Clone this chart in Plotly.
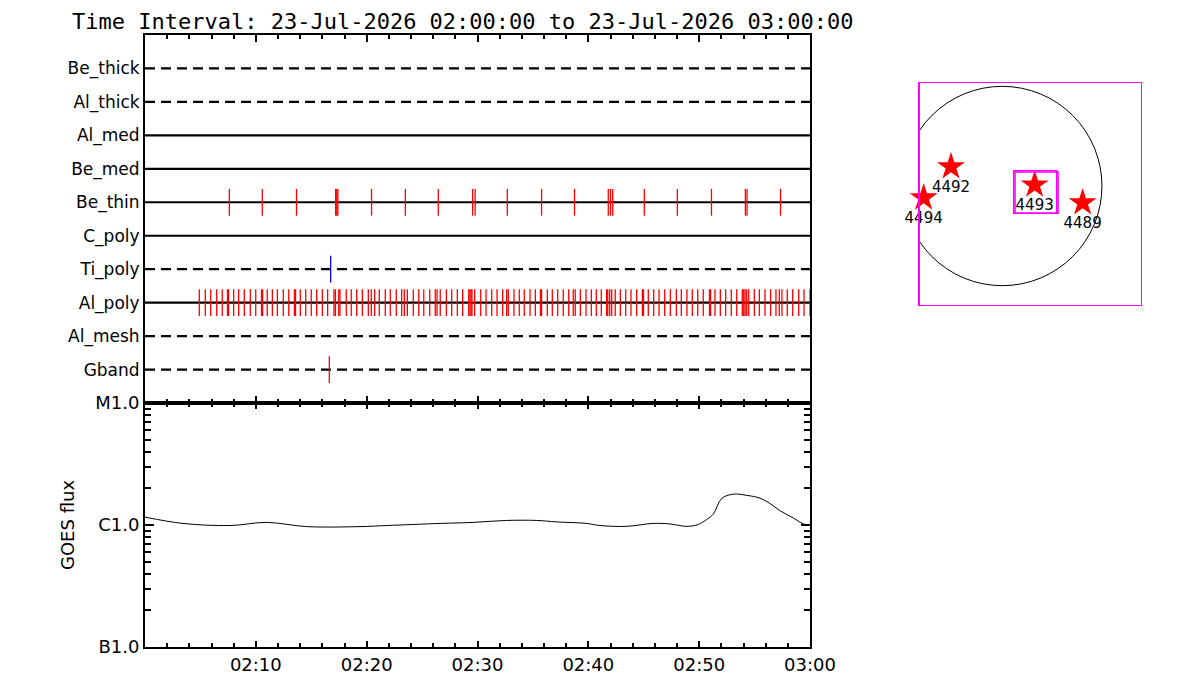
import plotly.graph_objects as go
import pandas as pd

DAY = "2026-07-23"
T0 = pd.Timestamp(f"{DAY} 02:00:00")
T1 = pd.Timestamp(f"{DAY} 03:00:00")

# filter rows, bottom to top
FILTERS = ["Gband", "Al_mesh", "Al_poly", "Ti_poly", "C_poly",
           "Be_thin", "Be_med", "Al_med", "Al_thick", "Be_thick"]

# exposure times, minutes after 02:00
BE_THIN_MIN = [7.61, 10.58, 13.67, 17.2, 17.3, 17.4, 20.44, 23.49, 26.46,
               29.56, 29.79, 32.69, 35.78, 38.75, 41.80, 42.0, 42.2, 45.05,
               48.03, 51.11, 54.17, 54.32, 57.34]
AL_POLY_MIN = [4.90, 5.44, 5.93, 6.47, 6.97, 7.44, 7.54, 8.00, 8.45, 8.96,
               9.50, 9.99, 10.51, 10.61, 11.03, 11.49, 11.94, 12.48, 12.97,
               13.48, 13.58, 14.01, 14.50, 15.00, 15.49, 16.00, 16.48, 17.05,
               17.18, 17.48, 17.59, 18.16, 18.61, 19.10, 19.61, 20.15, 20.42,
               20.72, 21.14, 21.68, 22.13, 22.67, 23.16, 23.40, 23.67, 24.21,
               24.70, 25.15, 25.69, 26.19, 26.35, 26.64, 27.19, 27.67, 28.18,
               28.66, 29.21, 29.32, 29.42, 29.50, 29.74, 30.29, 30.77, 31.28,
               31.76, 32.27, 32.63, 32.78, 33.29, 33.77, 34.22, 34.74, 35.22,
               35.68, 35.78, 36.30, 36.75, 37.24, 37.74, 38.23, 38.64, 38.82,
               39.28, 39.79, 40.27, 40.72, 41.17, 41.65, 41.75, 41.93, 42.11,
               42.43, 42.89, 43.37, 43.85, 44.36, 44.88, 44.98, 45.41, 45.90,
               46.38, 46.89, 47.40, 47.94, 48.39, 48.90, 49.38, 49.87, 50.37,
               50.93, 51.03, 51.43, 51.91, 52.39, 52.90, 53.39, 53.89, 54.02,
               54.14, 54.29, 54.47, 54.98, 55.43, 55.94, 56.45, 56.93, 57.23,
               57.47, 57.95, 58.44, 58.98, 59.46, 60.0]
TI_POLY_MIN = [16.75]
GBAND_MIN = [16.63]

# GOES 1-8 A flux
GOES_MIN = [0, 3.43, 7.67, 10.98, 14.59, 19.40, 21.81, 26.62, 29.59, 32.63,
            35.34, 37.15, 39.85, 41.05, 43.46, 45.83, 47.37, 48.87, 49.92,
            50.68, 51.28, 52.03, 53.08, 54.29, 55.49, 56.39, 57.29, 58.50,
            59.40, 60.0]
GOES_FLUX = [1.16e-6, 1.03e-6, 0.99e-6, 1.05e-6, 0.97e-6, 0.97e-6, 0.99e-6,
             1.03e-6, 1.05e-6, 1.09e-6, 1.09e-6, 1.06e-6, 1.03e-6, 0.99e-6,
             0.975e-6, 1.03e-6, 1.02e-6, 0.975e-6, 1.01e-6, 1.11e-6, 1.23e-6,
             1.65e-6, 1.79e-6, 1.75e-6, 1.66e-6, 1.50e-6, 1.31e-6, 1.14e-6,
             1.02e-6, 1.00e-6]

X_TICKS = ["02:10", "02:20", "02:30", "02:40", "02:50", "03:00"]
GOES_CLASSES = ["B1.0", "C1.0", "M1.0"]
GOES_LEVELS = [1e-7, 1e-6, 1e-5]

# active regions on the disk (arcsec)
AR_NUMBERS = ["4492", "4494", "4493", "4489"]
AR_X = [-494, -757, 312, 774]
AR_Y = [186, -113, 10, -161]

R_SUN = 960
FOV_X = [-802, 1336]
FOV_Y = [-1146, 992]
XRT_BOX = [110, 524, -263, 147]

DASHED = {"Gband", "Al_mesh", "Ti_poly", "Al_thick", "Be_thick"}
EVENT_COLOR = {"Be_thin": "red", "Al_poly": "red", "Ti_poly": "blue", "Gband": "red"}
FONT = "DejaVu Sans"
W, H, PAD = 1200, 700, 8   # page body adds an 8px margin


def px_x(x):
    return (x - PAD) / W


def px_y(y):
    return 1 - (y - PAD) / H


def to_time(m):
    return T0 + pd.Timedelta(minutes=m)


def event_segments(mins, row):
    xs, ys = [], []
    for m in mins:
        t = to_time(m)
        xs += [t, t, None]
        ys += [row - 0.4, row + 0.4, None]
    return xs, ys


fig = go.Figure()

for i, name in enumerate(FILTERS):
    row = i + 1
    fig.add_trace(go.Scatter(
        x=[T0, T1], y=[row, row], mode="lines",
        line=dict(color="black", width=2.2,
                  dash="10px,6px" if name in DASHED else "solid"),
        xaxis="x", yaxis="y", hoverinfo="skip"))

events = {"Be_thin": BE_THIN_MIN, "Al_poly": AL_POLY_MIN,
          "Ti_poly": TI_POLY_MIN, "Gband": GBAND_MIN}
for name, mins in events.items():
    xs, ys = event_segments(mins, FILTERS.index(name) + 1)
    fig.add_trace(go.Scatter(
        x=xs, y=ys, mode="lines",
        line=dict(color=EVENT_COLOR[name], width=1.3),
        xaxis="x", yaxis="y", hoverinfo="skip"))

fig.add_trace(go.Scatter(
    x=[to_time(m) for m in GOES_MIN], y=GOES_FLUX, mode="lines",
    line=dict(color="black", width=1, shape="spline"),
    xaxis="x2", yaxis="y2"))

fig.add_trace(go.Scatter(
    x=AR_X, y=AR_Y, mode="markers+text", text=AR_NUMBERS,
    textposition="bottom center", cliponaxis=False,
    textfont=dict(family=FONT, size=15, color="black"),
    marker=dict(symbol="star", size=21, color="red"),
    xaxis="x3", yaxis="y3"))

# solar limb, FOV edge and XRT pointing box
fig.add_shape(type="circle", xref="x3", yref="y3",
              x0=-R_SUN, x1=R_SUN, y0=-R_SUN, y1=R_SUN,
              line=dict(color="black", width=1))
fig.add_shape(type="line", xref="x3", yref="y3",
              x0=FOV_X[0], x1=FOV_X[0], y0=FOV_Y[0], y1=FOV_Y[1],
              line=dict(color="magenta", width=2))
for off in (0, 13):
    fig.add_shape(type="rect", xref="x3", yref="y3",
                  x0=XRT_BOX[0] + off, x1=XRT_BOX[1] + off,
                  y0=XRT_BOX[2], y1=XRT_BOX[3] - off,
                  line=dict(color="magenta", width=1.5))

tick_times = [pd.Timestamp(f"{DAY} {s}") for s in X_TICKS]
x_dom = [px_x(145), px_x(810)]
time_axis = dict(
    type="date", domain=x_dom, range=[T0, T1], automargin=False,
    showline=True, linecolor="black", linewidth=2, mirror="ticks",
    ticks="inside", ticklen=7, tickwidth=2, tickcolor="black",
    tickvals=tick_times, ticktext=X_TICKS, showgrid=False, zeroline=False,
    minor=dict(ticks="inside", ticklen=4, tickwidth=2, tickcolor="black",
               dtick=120000, tick0=T0, showgrid=False),
)

minor_flux = [k * d for d in (1e-7, 1e-6) for k in range(2, 10)]

fig.update_layout(
    width=W, height=H,
    margin=dict(l=0, r=0, t=0, b=0),
    paper_bgcolor="white", plot_bgcolor="white",
    showlegend=False,
    font=dict(family=FONT, size=18, color="black"),
    xaxis=dict(time_axis, anchor="y", showticklabels=False),
    yaxis=dict(
        domain=[px_y(403), px_y(35)], range=[0, 11],
        tickvals=list(range(1, len(FILTERS) + 1)), ticktext=FILTERS,
        ticks="", showline=True, linecolor="black", linewidth=2,
        mirror=True, showgrid=False, zeroline=False, automargin=False,
        tickfont=dict(size=17)),
    xaxis2=dict(time_axis, anchor="y2", ticklen=6,
                tickfont=dict(size=18)),
    yaxis2=dict(
        domain=[px_y(647), px_y(403)], type="log", range=[-7, -5],
        tickvals=GOES_LEVELS, ticktext=GOES_CLASSES, automargin=False,
        showline=True, linecolor="black", linewidth=2, mirror="ticks",
        ticks="inside", ticklen=9, tickwidth=1.5, tickcolor="black",
        showgrid=False, zeroline=False, anchor="x2",
        minor=dict(tickmode="array", tickvals=minor_flux, ticks="inside",
                   ticklen=6, tickwidth=1.5, tickcolor="black",
                   showgrid=False)),
    xaxis3=dict(domain=[px_x(919), px_x(1141)], range=FOV_X,
                showline=True, linecolor="magenta", linewidth=1, mirror=True,
                showticklabels=False, ticks="", showgrid=False,
                zeroline=False, anchor="y3", automargin=False),
    yaxis3=dict(domain=[px_y(305), px_y(83)], range=FOV_Y,
                showline=True, linecolor="magenta", linewidth=1, mirror=True,
                showticklabels=False, ticks="", showgrid=False,
                zeroline=False, anchor="x3", automargin=False),
    annotations=[
        dict(text="Time Interval: 23-Jul-2026 02:00:00 to 23-Jul-2026 03:00:00",
             x=px_x(70), y=px_y(21), xref="paper", yref="paper",
             xanchor="left", yanchor="middle", showarrow=False,
             font=dict(family="DejaVu Sans Mono", size=22)),
        dict(text="GOES flux", x=px_x(67), y=px_y(525),
             xref="paper", yref="paper", textangle=-90,
             xanchor="center", yanchor="middle", showarrow=False,
             font=dict(size=18)),
    ],
)

fig.write_html("out.html")
